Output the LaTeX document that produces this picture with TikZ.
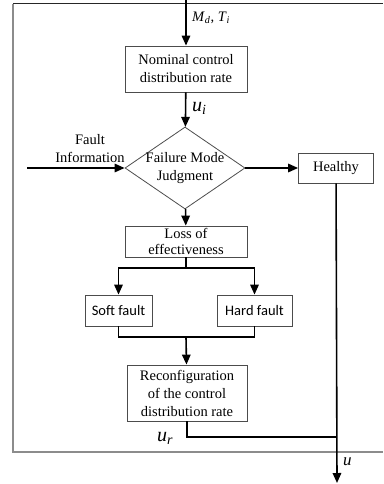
\documentclass[tikz,border=0pt]{standalone}
\usepackage{fontspec}
\setmainfont{Liberation Serif}
\newfontfamily\calibri{Carlito}
\usetikzlibrary{shapes.geometric,arrows.meta}
\newcommand{\sym}[2]{\textit{#1}\textsubscript{\textit{#2}}}
\begin{document}
\begin{tikzpicture}[x=1pt,y=-1pt,
    font=\fontsize{14.5}{18}\selectfont,
    box/.style={draw=black!70,line width=0.8pt,rectangle,align=center,inner sep=0pt},
    flow/.style={line width=1.6pt},
    arrow/.style={flow,-{Triangle[length=10pt,width=8.5pt]}},
    big/.style={font=\fontsize{20}{22}\selectfont,inner sep=0pt}]
    \useasboundingbox (0,0) rectangle (383,484);

    % frame
    \draw [black!85,line width=1pt] (13,4) -- (383,4);
    \draw [black!45,line width=1.2pt] (13,4) -- (13,452) -- (383,452);

    % blocks
    \node [box,minimum width=122,minimum height=46] (nominal) at (186,69) {Nominal control\\distribution rate};
    \node [draw=black!70,line width=0.8pt,diamond,aspect=1.46,inner sep=-6pt,
           minimum width=120,minimum height=82,align=center] (judge) at (185,168) {Failure Mode\\Judgment};
    \node [box,minimum width=75,minimum height=30] (healthy) at (336,168) {Healthy};
    \node [box,minimum width=122,minimum height=31] (loss) at (186,241.5) {Loss of\\[-2pt]effectiveness};
    \node [box,minimum width=67,minimum height=31,font=\fontsize{14.5}{18}\calibri] (soft) at (118.5,310.5) {Soft fault};
    \node [box,minimum width=75,minimum height=31,font=\fontsize{14.5}{18}\calibri] (hard) at (254.5,310.5) {Hard fault};
    \node [box,minimum width=120,minimum height=56] (reconfig) at (187,393) {Reconfiguration\\of the control\\distribution rate};

    % free ends and corners
    \coordinate (in) at (186,0);
    \coordinate (fault) at (27,168);
    \coordinate (split) at (186,268);
    \coordinate (join) at (186,337);
    \coordinate (merge) at (337,437);
    \coordinate (out) at (337,483);

    % labels
    \node [align=center,anchor=south] (info) at (90,166) {Fault\\Information};
    \node [anchor=west,inner sep=0pt] (mt) at (192,18) {\sym{M}{d}, \sym{T}{i}};
    \node [big,anchor=west] (ui) at (192,108) {\sym{u}{i}};
    \node [big] (ur) at (165,438) {\sym{u}{r}};
    \node [anchor=west,inner sep=0pt,font=\fontsize{17}{20}\selectfont] (uo) at (343,462) {\textit{u}};

    % connectors
    \draw [arrow] (in) -- (nominal);
    \draw [arrow] (nominal) -- (judge);
    \draw [arrow] (fault) -- (judge);
    \draw [arrow] (judge) -- (healthy);
    \draw [arrow] (judge) -- (loss);
    \draw [flow] (loss) -- (split);
    \draw [arrow] (split) -| (soft);
    \draw [arrow] (split) -| (hard);
    \draw [flow] (soft) |- (join) -| (hard);
    \draw [arrow] (join) -- (reconfig);
    \draw [flow] (reconfig) |- (merge);
    \draw [arrow] (healthy) -- (out);
\end{tikzpicture}
\end{document}
